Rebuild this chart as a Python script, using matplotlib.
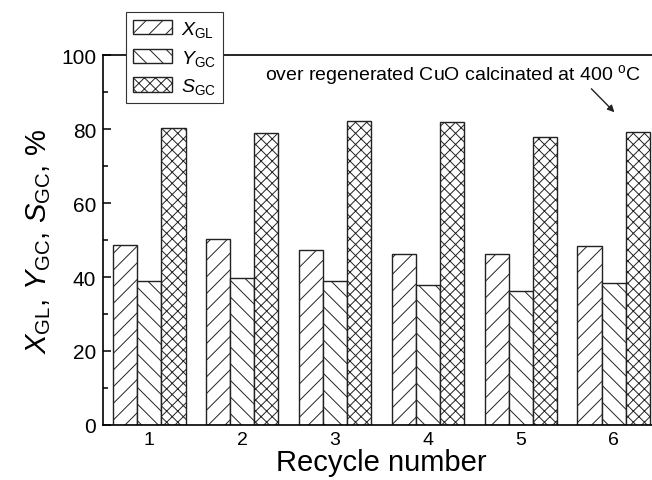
import matplotlib
matplotlib.use("Agg")
import matplotlib.pyplot as plt
import numpy as np

cycles = [1, 2, 3, 4, 5, 6]
x_gl = [48.7, 50.4, 47.3, 46.2, 46.2, 48.3]
y_gc = [39.0, 39.7, 38.8, 37.9, 36.1, 38.3]
s_gc = [80.2, 79.0, 82.2, 81.9, 77.9, 79.3]
labels = [r'$\mathit{X}_{\mathrm{GL}}$', r'$\mathit{Y}_{\mathrm{GC}}$', r'$\mathit{S}_{\mathrm{GC}}$']
yticks = [0, 20, 40, 60, 80, 100]

plt.rcParams['font.family'] = ['Liberation Sans', 'DejaVu Sans']
plt.rcParams['mathtext.fontset'] = 'custom'
plt.rcParams['mathtext.rm'] = 'Liberation Sans'
plt.rcParams['mathtext.it'] = 'Liberation Sans:italic'
plt.rcParams['hatch.color'] = '#555555'
plt.rcParams['hatch.linewidth'] = 0.7

fig = plt.figure(figsize=(6.52, 4.81), dpi=100)
ax = fig.add_axes([103/652, 55/481, 557/652, 370/481])

w = 0.26
x = np.array(cycles, dtype=float)
hatches = ['//', '\\\\', 'xxx']
for i, (vals, h, lab) in enumerate(zip([x_gl, y_gc, s_gc], hatches, labels)):
    ax.bar(x + (i - 1) * w, vals, width=w, facecolor='white', edgecolor='#222222',
           linewidth=1.0, hatch=h, label=lab, zorder=2)

ax.set_xlim(0.5, 6.5)
ax.set_ylim(0, 100)
ax.set_xticks(cycles)
ax.set_yticks(yticks)
ax.set_yticks(np.arange(10, 100, 20), minor=True)
ax.tick_params(axis='both', which='major', direction='in', length=6, width=1.1)
ax.tick_params(axis='y', which='major', labelsize=15, pad=5)
ax.tick_params(axis='x', which='major', labelsize=14, pad=4)
ax.tick_params(axis='y', which='minor', direction='in', length=3.5, width=1.1)
for s in ax.spines.values():
    s.set_linewidth(1.2)

ax.set_xlabel('Recycle number', fontsize=21, labelpad=0)
ax.set_ylabel(r'$\mathit{X}_{\mathrm{GL}}$, $\mathit{Y}_{\mathrm{GC}}$, $\mathit{S}_{\mathrm{GC}}$, %', fontsize=21, labelpad=6)

ax.text(2.25, 93.5, r'over regenerated CuO calcinated at 400 $^{\mathrm{o}}$C', fontsize=14,
        va='baseline', ha='left')
ax.annotate('', xy=(6.03, 84.0), xytext=(5.74, 91.4),
            arrowprops=dict(arrowstyle='-|>', color='#222222', lw=1.0, mutation_scale=10))

leg = ax.legend(loc='upper left', bbox_to_anchor=(126/652, 1 - 13/481),
                bbox_transform=fig.transFigure, fontsize=14, frameon=True,
                fancybox=False, framealpha=1, edgecolor='#333333',
                handlelength=2.0, handleheight=0.75, borderpad=0.35,
                labelspacing=0.45, handletextpad=0.5, borderaxespad=0)
leg.get_frame().set_linewidth(0.8)

fig.savefig('out.png', dpi=100)
